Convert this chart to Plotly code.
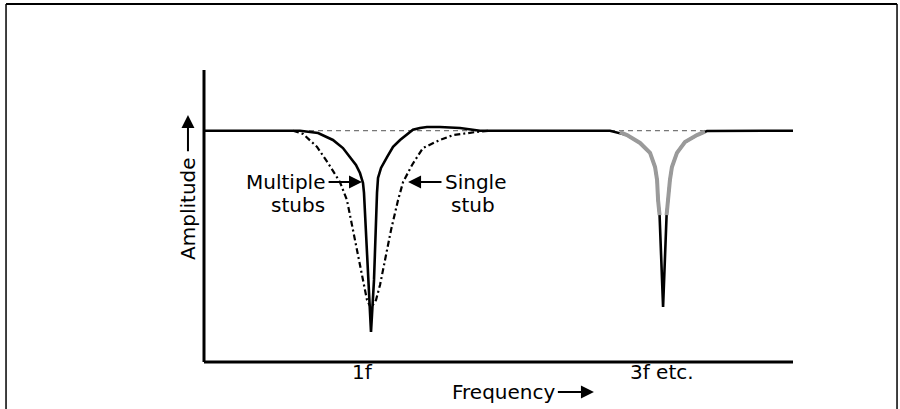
import plotly.graph_objects as go

# ---- data (frequency in units of f, amplitude relative to passband = 1) ----
multi_freq = [0.000, 0.575, 0.683, 0.772, 0.832, 0.874, 0.910, 0.934, 0.952, 0.958, 0.970, 0.982, 1.000,
              1.018, 1.027, 1.036, 1.042, 1.060, 1.096, 1.132, 1.174, 1.216, 1.251, 1.293, 1.335, 1.413,
              1.533, 1.653, 2.431, 2.533, 2.611, 2.671, 2.701, 2.713, 2.719, 2.728, 2.749, 2.770, 2.778,
              2.790, 2.802, 2.832, 2.880, 2.952, 3.012, 3.527]
multi_amp = [1.000, 1.000, 0.990, 0.960, 0.925, 0.886, 0.852, 0.817, 0.774, 0.731, 0.571, 0.355, 0.130,
             0.355, 0.571, 0.731, 0.796, 0.839, 0.886, 0.930, 0.960, 0.986, 1.004, 1.012, 1.016, 1.016,
             1.012, 1.000, 1.000, 0.981, 0.947, 0.904, 0.843, 0.787, 0.700, 0.635, 0.238, 0.635, 0.700,
             0.787, 0.843, 0.904, 0.951, 0.981, 0.999, 1.000]

# shaded (grey) flanks of the 3f notch
shade_freq = [2.490, 2.533, 2.611, 2.671, 2.701, 2.713, 2.719, 2.728, None,
              2.770, 2.778, 2.790, 2.802, 2.832, 2.880, 2.952, 3.000]
shade_amp = [0.994, 0.981, 0.947, 0.904, 0.843, 0.787, 0.700, 0.635, None,
             0.635, 0.700, 0.787, 0.843, 0.904, 0.951, 0.981, 0.996]

single_freq = [0.533, 0.593, 0.677, 0.743, 0.814, 0.856, 0.892, 0.928, 0.958, 0.976, 1.000, 1.030,
               1.054, 1.084, 1.120, 1.162, 1.192, 1.246, 1.311, 1.413, 1.491, 1.635, 1.713]
single_amp = [1.000, 0.986, 0.930, 0.860, 0.778, 0.700, 0.571, 0.441, 0.333, 0.268, 0.233, 0.268,
              0.333, 0.441, 0.571, 0.700, 0.778, 0.852, 0.925, 0.960, 0.981, 0.995, 1.000]

ref_freq = [0.575, 1.713, None, 2.431, 3.012]
ref_amp = [1.0, 1.0, None, 1.0, 1.0]

x_axis_end = 3.527
y_axis_top = 1.262

# view window (whole canvas)
x_range = [-1.2216, 4.1677]
y_range = [-0.2032, 1.5651]

FONT = "DejaVu Sans"
FS = 20

fig = go.Figure()
fig.add_trace(go.Scatter(x=ref_freq, y=ref_amp, mode="lines",
                         line=dict(color="#555555", width=1, dash="5px,4px"), hoverinfo="skip"))
fig.add_trace(go.Scatter(x=single_freq, y=single_amp, mode="lines",
                         line=dict(color="black", width=2.2, dash="6px,3px,2px,3px"), hoverinfo="skip"))
fig.add_trace(go.Scatter(x=multi_freq, y=multi_amp, mode="lines",
                         line=dict(color="black", width=2.6), hoverinfo="skip"))
fig.add_trace(go.Scatter(x=shade_freq, y=shade_amp, mode="lines",
                         line=dict(color="#9a9a9a", width=4), hoverinfo="skip"))

shapes = [
    dict(type="line", xref="x", yref="y", x0=0, x1=0, y0=0, y1=y_axis_top, line=dict(color="black", width=3)),
    dict(type="line", xref="x", yref="y", x0=0, x1=x_axis_end, y0=0, y1=0, line=dict(color="black", width=3)),
    # frame
    dict(type="line", xref="paper", yref="paper", x0=0.0067, x1=0.9967, y0=0.9902, y1=0.9902,
         line=dict(color="black", width=2)),
    dict(type="line", xref="paper", yref="paper", x0=0.0067, x1=0.0067, y0=0.9902, y1=0,
         line=dict(color="black", width=1.5)),
    dict(type="line", xref="paper", yref="paper", x0=0.9967, x1=0.9967, y0=0.9902, y1=0,
         line=dict(color="black", width=1.5)),
]

def txt(x, y, s, xa="center", angle=0):
    return dict(x=x, y=y, xref="x", yref="y", text=s, showarrow=False, xanchor=xa, yanchor="middle",
                textangle=angle, font=dict(family=FONT, size=FS, color="black"))

def arrow(x_tail, y_tail, x_head, y_head):
    return dict(x=x_head, y=y_head, ax=x_tail, ay=y_tail, xref="x", yref="y", axref="x", ayref="y",
                text="", showarrow=True, arrowhead=2, arrowsize=1.3, arrowwidth=2, arrowcolor="black")

annotations = [
    txt(0.952, -0.043, "1f"),
    txt(2.539, -0.043, "3f etc.", xa="left"),
    txt(2.114, -0.130, "Frequency", xa="right"),
    arrow(2.110, -0.130, 2.335, -0.130),
    txt(-0.096, 0.666, "Amplitude", angle=-90),
    arrow(-0.096, 0.905, -0.096, 1.068),
    txt(0.737, 0.778, "Multiple", xa="right"),
    txt(0.737, 0.679, "stubs", xa="right"),
    arrow(0.737, 0.778, 0.946, 0.778),
    txt(1.431, 0.778, "Single", xa="left"),
    txt(1.467, 0.679, "stub", xa="left"),
    arrow(1.431, 0.778, 1.222, 0.778),
]

fig.update_layout(
    width=900, height=409, autosize=False,
    margin=dict(l=0, r=0, t=0, b=0),
    paper_bgcolor="white", plot_bgcolor="white",
    showlegend=False,
    xaxis=dict(range=x_range, visible=False, fixedrange=True),
    yaxis=dict(range=y_range, visible=False, fixedrange=True),
    shapes=shapes, annotations=annotations,
)

fig.write_html("out.html", config={"displayModeBar": False},
               post_script="document.body.style.margin='0';document.body.style.overflow='hidden';")
